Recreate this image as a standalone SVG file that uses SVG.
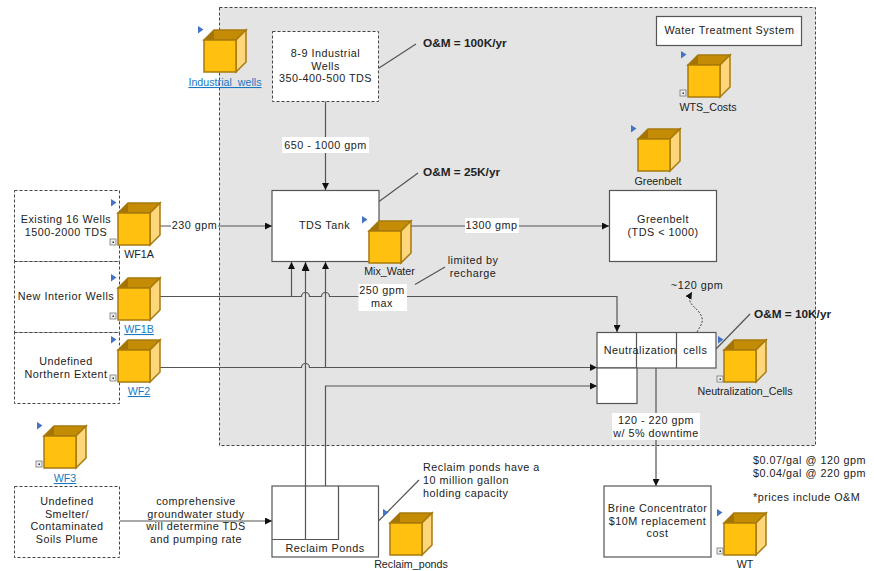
<svg xmlns="http://www.w3.org/2000/svg" width="874" height="571" viewBox="0 0 874 571">
<style>
text{font-family:"Liberation Sans",Arial,sans-serif;font-size:10.800px;letter-spacing:.5px;fill:#222;text-anchor:middle}
.b{font-weight:bold;font-size:11.8px;letter-spacing:0;text-anchor:start}
.s{text-anchor:start}
.n{font-size:10.700px;letter-spacing:0}
.u{fill:#1a78c2;text-decoration:underline}
.box{fill:#fff;stroke:#555;stroke-width:1.2}
.dash{fill:#fff;stroke:#444;stroke-width:1;stroke-dasharray:3 2}
.c{fill:none;stroke:#555;stroke-width:1.2}
.a{fill:none;stroke:#555;stroke-width:1.2;marker-end:url(#arr)}
.big{fill:none;stroke:#555;stroke-width:1.2;marker-end:url(#arrbig)}
.t{fill:#4472c4}
.lab{fill:#fff}
</style>
<defs>
<marker id="arr" markerUnits="userSpaceOnUse" markerWidth="8" markerHeight="7" refX="7" refY="3.500" orient="auto"><path d="M0 0L7 3.500L0 7Z" fill="#111"/></marker>
<marker id="arrbig" markerUnits="userSpaceOnUse" markerWidth="10" markerHeight="9" refX="9" refY="4" orient="auto"><path d="M0 0L9 4L0 8Z" fill="#111"/></marker>
<g id="cube">
<path d="M0 0L10-10H42L32 0Z" fill="#c48b04" stroke="#a87a0c" stroke-width="1.5"/>
<path d="M0 0L10-10V0Z" fill="#a47406"/>
<path d="M32 0L42-10V22L32 32Z" fill="#ffd67a" stroke="#a87a0c" stroke-width="1.5"/>
<rect width="32" height="32" fill="#ffc00f" stroke="#a87a0c" stroke-width="1.5"/>
</g>
<g id="tri"><path d="M0 0L5.500 3.500L0 7.500Z" class="t"/></g>
<g id="plus"><rect width="6" height="6" fill="#eee" stroke="#777" stroke-width=".8"/><rect x="2.500" y="2.500" width="1.500" height="1.500" fill="#333"/></g>
</defs>

<rect id="system" x="219.500" y="7.500" width="596" height="438" fill="#e4e4e4" stroke="#444" stroke-dasharray="3 2"/>

<g id="connectors">
<path class="c" d="M379 68L416 44"/>
<path class="c" d="M379 201.500L418 173"/>
<path class="c" d="M415 284.500L445 267"/>
<path class="c" d="M716 349L750 314"/>
<path class="c" d="M379 520.500L419 480"/>
<path class="a" d="M325.500 101V190"/>
<path class="a" d="M160 226H272"/>
<path class="a" d="M411 226H609"/>
<path class="a" d="M160 296.500H301.500A4 4 0 0 1 309.500 296.500H321.500A4 4 0 0 1 329.500 296.500H617V332"/>
<path class="a" d="M291.500 296.500V262"/>
<path class="a" d="M160 367.500H301.500A4 4 0 0 1 309.500 367.500H597"/>
<path class="a" d="M325.500 367.500V262"/>
<path class="big" d="M305.500 486V262"/>
<path class="a" d="M325.500 486V386H597"/>
<path class="a" d="M656 368V486"/>
<path class="a" d="M120 521H272"/>
<path d="M697 332C700 326 706 321 699 312C692 304 686 302 692 292" fill="none" stroke="#444" stroke-dasharray="2 1.500" marker-end="url(#arr)"/>
</g>

<g id="water-treatment-label"><rect class="box" x="656.500" y="16.500" width="145" height="29"/><text x="729.500" y="34">Water Treatment System</text></g>

<g id="wf1a-box"><rect class="dash" x="14.500" y="190.500" width="105" height="71"/><text x="66" y="223">Existing 16 Wells</text><text x="66" y="235.500">1500-2000 TDS</text></g>
<g id="wf1b-box"><rect class="dash" x="14.500" y="261.500" width="105" height="71"/><text x="66" y="300">New Interior Wells</text></g>
<g id="wf2-box"><rect class="dash" x="14.500" y="332.500" width="105" height="71"/><text x="66" y="365">Undefined</text><text x="66" y="377.500">Northern Extent</text></g>
<g id="smelter"><rect class="dash" x="14.500" y="486.500" width="105" height="71"/><text x="67" y="505">Undefined</text><text x="67" y="517.500">Smelter/</text><text x="67" y="530">Contaminated</text><text x="67" y="542.500">Soils Plume</text></g>

<g id="industrial-box"><rect class="dash" x="272.500" y="31.500" width="106" height="70"/><text x="325.500" y="57">8-9 Industrial</text><text x="325.500" y="69.500">Wells</text><text x="325.500" y="82">350-400-500 TDS</text></g>
<g id="tds-tank"><rect class="box" x="272" y="190.500" width="107" height="71"/><text x="324.500" y="229">TDS Tank</text></g>
<g id="greenbelt-box"><rect class="box" x="609.500" y="190.500" width="107" height="71"/><text x="663" y="223">Greenbelt</text><text x="663" y="236">(TDS &lt; 1000)</text></g>
<g id="neutralization"><rect class="box" x="597" y="332.500" width="119" height="35.500"/><rect class="box" x="597" y="368" width="40" height="35.500"/><path class="c" d="M636.500 332.500V368M676.500 332.500V368"/><text x="655.500" y="353.500">Neutralization<tspan dx="3"> cells</tspan></text></g>
<g id="reclaim"><rect class="box" x="272" y="486" width="106.500" height="71"/><path class="c" d="M272 539.500H338.500V486M305.500 486V539.500"/><text x="325" y="551.500">Reclaim Ponds</text></g>
<g id="brine"><rect class="box" x="604" y="486" width="107" height="71"/><text x="657.500" y="512">Brine Concentrator</text><text x="657.500" y="524.500">$10M replacement</text><text x="657.500" y="537">cost</text></g>

<g id="labels">
<rect class="lab" x="282" y="137" width="87" height="16"/><text x="325.500" y="149">650 - 1000 gpm</text>
<rect class="lab" x="171" y="218" width="47" height="15"/><text x="194.500" y="229">230 gpm</text>
<rect class="lab" x="465" y="218" width="54" height="15"/><text x="491.500" y="229">1300 gmp</text>
<rect class="lab" x="358.500" y="284" width="48.500" height="27"/><text x="382" y="294">250 gpm</text><text x="382" y="306.500">max</text>
<text x="473" y="264">limited by</text><text x="473" y="277">recharge</text>
<text x="697" y="289">~120 gpm</text>
<rect class="lab" x="612" y="413" width="88" height="27"/><text x="656" y="424">120 - 220 gpm</text><text x="656" y="436.500">w/ 5% downtime</text>
<text x="196" y="505">comprehensive</text><text x="196" y="517.500">groundwater study</text><text x="196" y="530">will determine TDS</text><text x="196" y="542.500">and pumping rate</text>
<text class="s" x="423" y="471">Reclaim ponds have a</text><text class="s" x="423" y="484">10 million gallon</text><text class="s" x="423" y="497">holding capacity</text>
<text class="s" x="753" y="464">$0.07/gal @ 120 gpm</text><text class="s" x="753" y="476.500">$0.04/gal @ 220 gpm</text><text class="s" x="753" y="501">*prices include O&amp;M</text>
<text class="b" x="423" y="47">O&amp;M = 100K/yr</text>
<text class="b" x="423" y="176">O&amp;M = 25K/yr</text>
<text class="b" x="754" y="318">O&amp;M = 10K/yr</text>
</g>

<g id="Industrial_wells"><use href="#cube" x="204" y="40"/><use href="#tri" x="198" y="26"/><text class="n u" x="225" y="86">Industrial_wells</text></g>
<g id="WTS_Costs"><use href="#cube" x="688" y="65"/><use href="#tri" x="681" y="51"/><use href="#plus" x="680" y="90"/><text class="n" x="708" y="111">WTS_Costs</text></g>
<g id="Greenbelt"><use href="#cube" x="638" y="139"/><use href="#tri" x="631" y="125"/><text class="n" x="658" y="185">Greenbelt</text></g>
<g id="WF1A"><use href="#cube" x="118" y="213"/><use href="#tri" x="111" y="199"/><use href="#plus" x="110" y="239"/><text class="n" x="139" y="258">WF1A</text></g>
<g id="WF1B"><use href="#cube" x="118" y="288"/><use href="#tri" x="111" y="274"/><use href="#plus" x="110" y="313"/><text class="n u" x="139" y="333">WF1B</text></g>
<g id="WF2"><use href="#cube" x="118" y="350"/><use href="#tri" x="111" y="336"/><use href="#plus" x="110" y="375"/><text class="n u" x="139" y="395">WF2</text></g>
<g id="WF3"><use href="#cube" x="44" y="436"/><use href="#tri" x="37" y="422"/><use href="#plus" x="36" y="461"/><text class="n u" x="65" y="482">WF3</text></g>
<g id="Mix_Water"><use href="#cube" x="369" y="231"/><use href="#tri" x="362" y="216"/><text class="n" x="389.500" y="275">Mix_Water</text></g>
<g id="Neutralization_Cells"><use href="#cube" x="724" y="350"/><use href="#tri" x="718" y="336"/><use href="#plus" x="717" y="376"/><text class="n" x="745" y="395">Neutralization_Cells</text></g>
<g id="Reclaim_ponds"><use href="#cube" x="390" y="523"/><use href="#tri" x="383" y="509"/><text class="n" x="411" y="568">Reclaim_ponds</text></g>
<g id="WT"><use href="#cube" x="724" y="523"/><use href="#tri" x="717" y="509"/><use href="#plus" x="717" y="548"/><text class="n" x="745" y="568">WT</text></g>
</svg>
